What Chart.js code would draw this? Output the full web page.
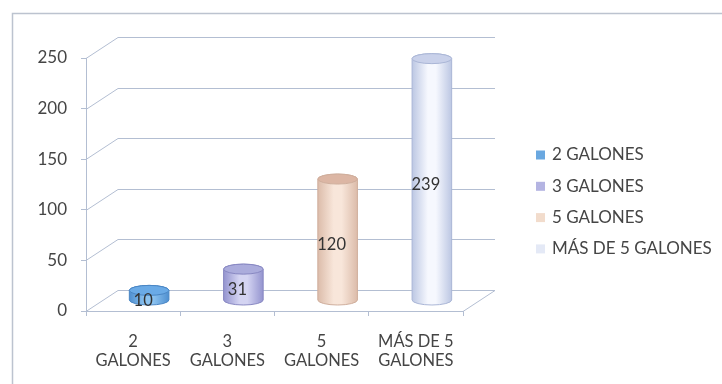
<!DOCTYPE html>
<html>
<head>
<meta charset="utf-8">
<script src="https://cdn.jsdelivr.net/npm/chart.js@4/dist/chart.umd.min.js"></script>
<style>
	body { margin: 0; background: #ffffff; }
	#wrap { width: 722px; height: 384px; }
</style>
</head>
<body>
<div id="wrap"><canvas id="galonesCanvas"></canvas></div>
<script>
const categories = ["2 GALONES", "3 GALONES", "5 GALONES", "MÁS DE 5 GALONES"];
const values = [10, 31, 120, 239];
const yTicks = [0, 50, 100, 150, 200, 250];

// cylinder colours: edge shade, centre highlight, top cap, outline
const cylinderStyles = [
	{ edge: "#4f8fd0", light: "#8cc3f0", top: "#6aaae6", line: "#4a86c4" },
	{ edge: "#9494cf", light: "#d4d4f2", top: "#abacdc", line: "#8888c2" },
	{ edge: "#dcbcaa", light: "#f8e6da", top: "#dcb6a4", line: "#cfae9c" },
	{ edge: "#bcc7e3", light: "#f6f8fe", top: "#c9d1ea", line: "#aab6d6" },
];
const legendColors = ["#6aa8e0", "#b4b4e2", "#f2dccc", "#e4e9f6"];

const gridColor = "#b3bed2";
const textColor = "#454545";
const depthX = 32;
const depthY = -21;

function tickLines(label) {
	const cut = label.lastIndexOf(" ");
	return [label.slice(0, cut), label.slice(cut + 1)];
}

function drawCylinder(ctx, cx, top, base, rx, ry, style) {
	const left = cx - rx;
	const right = cx + rx;
	const grad = ctx.createLinearGradient(left, 0, right, 0);
	grad.addColorStop(0, style.edge);
	grad.addColorStop(0.4, style.light);
	grad.addColorStop(0.6, style.light);
	grad.addColorStop(1, style.edge);

	ctx.beginPath();
	ctx.moveTo(left, top);
	ctx.lineTo(left, base);
	ctx.ellipse(cx, base, rx, ry, 0, Math.PI, 0, true);
	ctx.lineTo(right, top);
	ctx.ellipse(cx, top, rx, ry, 0, 0, Math.PI, true);
	ctx.closePath();
	ctx.fillStyle = grad;
	ctx.fill();
	ctx.strokeStyle = style.line;
	ctx.lineWidth = 1;
	ctx.stroke();

	ctx.beginPath();
	ctx.ellipse(cx, top, rx, ry, 0, 0, Math.PI * 2);
	ctx.fillStyle = style.top;
	ctx.fill();
	ctx.stroke();
}

// outer frame, back wall grid and floor
const wallPlugin = {
	id: "wall",
	beforeDraw(chart) {
		const ctx = chart.ctx;
		ctx.save();
		ctx.strokeStyle = "#bcc3cf";
		ctx.lineWidth = 1.5;
		ctx.beginPath();
		ctx.moveTo(12.5, chart.height + 5);
		ctx.lineTo(12.5, 13.5);
		ctx.lineTo(chart.width + 5, 13.5);
		ctx.stroke();
		ctx.restore();
	},
	beforeDatasetsDraw(chart) {
		const ctx = chart.ctx;
		const area = chart.chartArea;
		const y = chart.scales.y;
		ctx.save();
		ctx.strokeStyle = gridColor;
		ctx.lineWidth = 1;
		for (const v of yTicks) {
			const py = Math.round(y.getPixelForValue(v)) + 0.5;
			ctx.beginPath();
			ctx.moveTo(area.left, py);
			ctx.lineTo(area.left + depthX, py + depthY);
			ctx.lineTo(area.right + depthX, py + depthY);
			if (v === 0) {
				ctx.lineTo(area.right, py);
			}
			ctx.stroke();
		}
		ctx.restore();
	},
	afterDatasetsDraw(chart) {
		const ctx = chart.ctx;
		const meta = chart.getDatasetMeta(0);
		ctx.save();
		meta.data.forEach((bar, i) => {
			const cx = bar.x + depthX / 2;
			const top = bar.y + depthY / 2;
			const base = bar.base + depthY / 2;
			drawCylinder(ctx, cx, top, base, bar.width / 2, 5, cylinderStyles[i]);
		});
		ctx.font = "16.5px Lato";
		ctx.fillStyle = "#333333";
		ctx.textAlign = "center";
		ctx.textBaseline = "middle";
		meta.data.forEach((bar, i) => {
			const cx = bar.x + depthX / 2 - 6;
			const mid = (bar.y + bar.base) / 2 + depthY / 2 + 5;
			ctx.fillText(String(values[i]), cx, mid);
		});

		// legend
		ctx.font = "17px Lato";
		ctx.textAlign = "left";
		categories.forEach((name, i) => {
			const ly = 155 + i * 31.3;
			ctx.fillStyle = legendColors[i];
			ctx.fillRect(536, ly - 4.5, 9, 9);
			ctx.fillStyle = textColor;
			ctx.fillText(name, 552, ly);
		});
		ctx.restore();
	},
};

function createCylinderChart(canvasId) {
	Chart.defaults.font.family = "Lato";
	Chart.defaults.color = textColor;
	const ctx = document.getElementById(canvasId).getContext("2d");
	new Chart(ctx, {
		type: "bar",
		data: {
			labels: categories.map(tickLines),
			datasets: [
				{
					data: values,
					backgroundColor: "rgba(0,0,0,0)",
					borderWidth: 0,
					categoryPercentage: 1,
					barPercentage: 0.42,
				},
			],
		},
		options: {
			responsive: true,
			maintainAspectRatio: false,
			animation: false,
			layout: {
				padding: {
					top: 58,
					right: 259,
					bottom: 0,
					left: 0,
				},
			},
			plugins: {
				legend: { display: false },
				tooltip: { enabled: false },
			},
			scales: {
				x: {
					offset: true,
					afterFit: (scale) => {
						scale.height = 73;
					},
					grid: {
						offset: true,
						drawOnChartArea: false,
						drawTicks: true,
						tickLength: 5,
						color: gridColor,
					},
					border: { display: true, color: gridColor },
					ticks: {
						padding: 16,
						color: textColor,
						font: { size: 16.5, lineHeight: 1.15 },
						maxRotation: 0,
					},
				},
				y: {
					min: 0,
					max: 250,
					afterFit: (scale) => {
						scale.width = 86;
					},
					afterBuildTicks: (scale) => {
						scale.ticks = yTicks.map((v) => ({ value: v }));
					},
					grid: {
						drawOnChartArea: false,
						drawTicks: true,
						tickLength: 5,
						color: gridColor,
					},
					border: { display: true, color: gridColor },
					ticks: {
						padding: 14,
						color: textColor,
						font: { size: 17 },
					},
				},
			},
		},
		plugins: [wallPlugin],
	});
}

createCylinderChart("galonesCanvas");
</script>
</body>
</html>
